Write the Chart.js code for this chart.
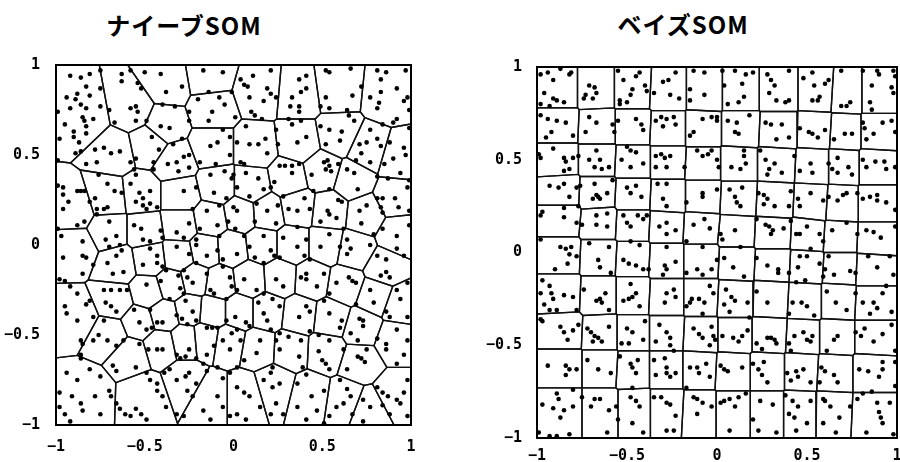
<!DOCTYPE html>
<html>
<head>
<meta charset="utf-8">
<script src="https://cdn.jsdelivr.net/npm/chart.js@4/dist/chart.umd.min.js"></script>
<style>
body { margin: 0; background: #fff; }
#wrap { position: relative; width: 900px; height: 462px; overflow: hidden; background: #fff; }
.title { position: absolute; font-family: "Noto Sans CJK JP", sans-serif; font-weight: bold; font-size: 24px; line-height: 34px; letter-spacing: 1px; text-align: center; color: #000; }
#t1 { left: 0; width: 368px; top: 8px; }
#t2 { left: 583px; width: 200px; top: 7px; }
#naive { position: absolute; left: 0; top: 0; }
#bayes { position: absolute; left: 450px; top: 0; }
</style>
</head>
<body>
<div id="wrap">
  <div class="title" id="t1">ナイーブSOM</div>
  <div class="title" id="t2">ベイズSOM</div>
  <canvas id="naive" width="450" height="462"></canvas>
  <canvas id="bayes" width="480" height="462"></canvas>
</div>
<script>
'use strict';

let tickValues = [-1, -0.5, 0, 0.5, 1];
let tickLabels = ['−1', '−0.5', '0', '0.5', '1'];

// SOM reference vectors (cell generators)
let naiveNodeX = [-.84,-.57,-.37,-.14,.14,.37,.58,.87, -.39,-.12,.12,.37,.59,.76,.93, -.67,-.48,-.33,-.12,
  -.90,-.71,-.52,-.30,-.09,.10,.31,.50,.67,.91, -.89,-.70,-.50,-.30,-.13,.04,.19,.36,.54,.74,.93,
  -.65,-.47,-.31,-.16,-.01,.16,.33,.52,.68,.85, -.88,-.67,-.48,-.35,-.22,-.08,.09,.26,.44,.63,.80,.94,
  -.70,-.53,-.39,-.25,-.12,.03,.19,.37,.55,.72,.91, -.58,-.41,-.27,-.16,-.03,.14,.32,.52,.71,
  -.83,-.50,-.27,-.13,.06,.23,.43,.63,.76,.91];
let naiveNodeY = [.70,.75,.89,.93,.85,.83,.86,.83, .67,.76,.54,.57,.61,.53,.48, .52,.56,.46,.54,
  .20,.26,.28,.28,.33,.33,.37,.41,.36,.26, -.02,.08,.08,.11,.14,.17,.18,.21,.19,.17,.06,
  -.11,-.08,-.06,-.03,-.02,.00,.00,.00,-.03,-.13, -.40,-.31,-.26,-.22,-.19,-.21,-.19,-.18,-.19,-.22,-.28,-.33,
  -.50,-.43,-.39,-.36,-.37,-.37,-.37,-.39,-.41,-.46,-.53, -.61,-.56,-.53,-.52,-.54,-.57,-.58,-.59,-.65,
  -.82,-.83,-.75,-.83,-.83,-.78,-.83,-.86,-.91,-.83];

let bayesNodeX = [
  -.88,-.67,-.47,-.27,-.07,.13,.34,.56,.72,.89,
  -.88,-.66,-.47,-.27,-.08,.13,.34,.55,.71,.89,
  -.88,-.66,-.47,-.27,-.08,.12,.33,.54,.70,.88,
  -.87,-.66,-.47,-.27,-.08,.12,.32,.53,.69,.88,
  -.87,-.65,-.47,-.28,-.09,.11,.31,.51,.68,.88,
  -.87,-.65,-.47,-.28,-.09,.11,.31,.50,.68,.87,
  -.87,-.65,-.47,-.28,-.09,.10,.30,.49,.67,.87,
  -.86,-.64,-.47,-.28,-.09,.10,.29,.48,.66,.87,
  -.86,-.64,-.47,-.28,-.10,.09,.28,.47,.65,.86,
  -.86,-.64,-.46,-.28,-.10,.09,.28,.46,.64,.86];
let bayesNodeY = [
  .88,.88,.88,.87,.87,.87,.87,.87,.86,.86,
  .68,.67,.67,.66,.66,.66,.65,.65,.64,.64,
  .50,.50,.49,.49,.48,.48,.48,.47,.47,.47,
  .33,.32,.31,.30,.30,.29,.28,.27,.26,.26,
  .18,.16,.15,.14,.13,.11,.10,.09,.08,.07,
  -.01,-.02,-.03,-.04,-.04,-.05,-.06,-.07,-.08,-.09,
  -.22,-.23,-.23,-.24,-.24,-.25,-.25,-.26,-.26,-.27,
  -.43,-.44,-.44,-.44,-.45,-.45,-.45,-.46,-.46,-.46,
  -.61,-.61,-.62,-.62,-.62,-.63,-.63,-.63,-.64,-.64,
  -.85,-.85,-.85,-.85,-.86,-.86,-.86,-.86,-.86,-.87];

// sample points, x,y pairs
let naiveDots = [
  -.92,.94,-.86,.93,-.81,.95,-.75,.97,-.63,.95,-.58,.97,-.50,.96,-.41,.95,-.17,.97,-.06,.96,
  -.94,.82,-.88,.84,-.83,.88,-.81,.83,-.75,.87,-.63,.91,-.54,.90,-.52,.87,-.38,.85,-.29,.88,-.14,.85,-.08,.82,-.01,.85,
  -.99,.74,-.92,.76,-.86,.78,-.89,.81,-.83,.76,-.75,.77,-.70,.75,-.58,.76,-.55,.77,-.54,.74,-.40,.78,-.33,.77,-.25,.74,-.20,.81,-.12,.74,-.05,.78,
  -.95,.67,-.90,.63,-.85,.71,-.84,.69,-.83,.66,-.79,.70,-.67,.68,-.55,.69,-.49,.69,-.41,.66,-.36,.65,-.25,.69,-.14,.69,-.06,.64,
  -.98,.59,-.90,.60,-.87,.57,-.83,.62,-.78,.53,-.73,.54,-.69,.51,-.64,.52,-.46,.60,-.42,.53,-.34,.56,-.29,.59,-.13,.55,-.09,.57,-.02,.60,
  -.89,.51,-.86,.52,-.99,.47,-.83,.45,-.77,.46,-.58,.46,-.55,.48,-.45,.46,-.37,.45,-.32,.46,-.28,.49,-.25,.50,-.19,.46,-.10,.45,-.02,.50,
  -.99,.33,-.96,.32,-.76,.39,-.71,.34,-.56,.42,-.55,.39,-.45,.42,-.31,.41,-.25,.43,-.13,.39,-.05,.41,-.01,.37,
  -.96,.28,-.93,.24,-.88,.30,-.86,.30,-.84,.30,-.78,.26,-.67,.30,-.63,.29,-.58,.34,-.53,.29,-.51,.26,-.47,.30,-.28,.30,-.21,.32,-.11,.29,-.04,.26,
  -.96,.20,-.81,.24,-.77,.20,-.73,.20,-.71,.21,-.55,.24,-.51,.22,-.47,.23,-.49,.20,-.43,.21,-.23,.20,-.15,.19,-.08,.22,.00,.21,
  -.99,.09,-.88,.11,-.84,.13,-.77,.17,-.70,.13,-.56,.11,-.52,.09,-.41,.08,-.32,.07,-.25,.12,-.19,.09,-.09,.11,-.03,.13,
  -.97,.05,-.85,.02,-.72,.03,-.66,.05,-.51,.03,-.47,.02,-.40,.04,-.28,.04,-.21,.03,-.08,.05,
  .04,.92,.06,.89,.08,.88,.11,.94,.21,.97,.37,.92,.41,.94,.52,.97,.54,.96,.66,.98,.81,.97,.86,.96,.97,.97,.83,.92,
  .19,.87,.21,.84,.24,.82,.33,.82,.38,.85,.41,.87,.52,.82,.67,.83,.72,.88,.77,.82,.83,.85,.92,.87,.98,.82,.09,.82,
  .01,.71,.10,.74,.12,.72,.17,.80,.32,.77,.37,.77,.37,.74,.49,.77,.54,.76,.64,.75,.65,.72,.81,.76,.82,.79,.96,.80,.99,.75,
  .07,.66,.16,.70,.24,.64,.31,.70,.33,.67,.38,.69,.49,.66,.54,.64,.61,.63,.68,.69,.77,.64,.84,.67,.90,.68,.92,.70,.99,.65,
  .02,.57,.09,.56,.14,.56,.18,.59,.25,.56,.36,.57,.41,.60,.52,.56,.60,.58,.71,.56,.75,.57,.81,.59,.83,.55,.88,.57,.96,.54,
  .04,.46,.06,.45,.19,.51,.26,.44,.29,.44,.33,.44,.37,.45,.51,.46,.53,.47,.54,.44,.59,.45,.69,.47,.72,.51,.77,.46,.85,.45,.90,.48,.97,.50,
  .00,.39,.07,.40,.14,.37,.23,.35,.33,.40,.44,.39,.52,.42,.55,.41,.64,.42,.68,.40,.81,.38,.87,.37,.94,.40,.99,.36,
  .02,.32,.09,.27,.17,.31,.21,.32,.28,.27,.40,.26,.45,.30,.54,.31,.59,.25,.70,.31,.81,.26,.83,.21,.84,.26,.91,.26,.98,.32,
  .02,.19,.13,.23,.19,.19,.25,.22,.31,.20,.36,.19,.43,.20,.54,.17,.53,.19,.61,.24,.71,.19,.75,.22,.84,.18,.93,.21,.99,.19,
  .01,.09,.06,.05,.12,.13,.17,.05,.24,.12,.28,.04,.36,.10,.41,.03,.49,.13,.54,.06,.62,.09,.64,.03,.72,.12,.79,.06,.84,.09,.92,.05,.99,.11,.58,.15,
  -.96,-.07,-.85,-.06,-.83,-.07,-.70,-.01,-.66,-.06,-.64,.00,-.63,-.03,-.47,-.02,-.43,-.06,-.32,-.01,-.25,-.05,-.21,.00,-.15,-.06,-.09,-.03,-.06,-.08,
  -.98,-.19,-.95,-.20,-.85,-.16,-.79,-.11,-.71,-.10,-.68,-.16,-.62,-.15,-.51,-.11,-.43,-.10,-.40,-.12,-.38,-.14,-.31,-.17,-.28,-.14,-.26,-.18,-.21,-.10,-.15,-.16,-.06,-.12,-.02,-.18,
  -.92,-.23,-.88,-.27,-.81,-.31,-.73,-.25,-.69,-.25,-.64,-.25,-.60,-.25,-.72,-.32,-.69,-.34,-.49,-.22,-.41,-.20,-.36,-.30,-.30,-.24,-.28,-.27,-.27,-.31,-.23,-.21,-.13,-.25,-.11,-.27,-.04,-.30,-.01,-.23,
  -.95,-.34,-.94,-.38,-.88,-.42,-.83,-.33,-.79,-.40,-.73,-.42,-.66,-.37,-.56,-.36,-.53,-.43,-.49,-.47,-.46,-.46,-.47,-.36,-.43,-.43,-.40,-.43,-.32,-.39,-.29,-.41,-.26,-.44,-.23,-.37,-.21,-.42,-.15,-.46,-.12,-.46,-.09,-.46,-.04,-.42,-.01,-.49,
  -.86,-.53,-.85,-.55,-.79,-.53,-.76,-.50,-.71,-.53,-.66,-.56,-.62,-.53,-.53,-.55,-.48,-.58,-.43,-.58,-.40,-.58,-.32,-.61,-.30,-.63,-.27,-.62,-.25,-.58,-.21,-.63,-.17,-.66,-.15,-.61,-.11,-.56,-.06,-.53,-.02,-.58,-.86,-.61,-.86,-.63,
  -.94,-.71,-.88,-.75,-.81,-.69,-.75,-.73,-.68,-.67,-.66,-.70,-.55,-.68,-.49,-.71,-.47,-.75,-.43,-.77,-.39,-.71,-.36,-.69,-.32,-.75,-.27,-.73,-.25,-.71,-.21,-.77,-.15,-.70,-.09,-.68,-.06,-.74,-.02,-.71,
  -.98,-.90,-.95,-.94,-.86,-.88,-.85,-.92,-.78,-.84,-.75,-.94,-.70,-.81,-.69,-.84,-.66,-.88,-.64,-.91,-.61,-.94,-.58,-.95,-.55,-.91,-.52,-.94,-.49,-.97,-.43,-.81,-.40,-.84,-.38,-.90,-.32,-.94,-.28,-.95,-.26,-.81,-.23,-.84,-.17,-.92,-.13,-.97,-.09,-.84,-.06,-.90,-.02,-.95,-.92,-.98,-.98,-.82,-.91,-.84,
  .02,-.05,.09,-.01,.12,-.07,.21,-.03,.23,-.06,.26,-.07,.36,-.01,.40,-.06,.43,-.08,.49,-.01,.60,-.01,.64,-.05,.66,-.02,.77,.00,.81,-.06,.86,-.08,.92,-.02,.96,-.06,.17,-.10,.41,-.16,
  .02,-.25,.06,-.19,.13,-.25,.17,-.27,.24,-.19,.28,-.23,.38,-.18,.41,-.19,.47,-.23,.51,-.16,.58,-.21,.65,-.18,.67,-.20,.69,-.21,.77,-.25,.83,-.17,.86,-.15,.88,-.18,.92,-.25,.98,-.21,.54,-.27,
  .01,-.40,.07,-.43,.14,-.32,.17,-.38,.19,-.42,.22,-.30,.26,-.34,.37,-.40,.41,-.34,.43,-.37,.51,-.31,.54,-.38,.61,-.42,.69,-.33,.71,-.41,.73,-.42,.79,-.32,.86,-.37,.88,-.40,.94,-.30,.98,-.40,
  .02,-.47,.04,-.53,.09,-.45,.15,-.53,.21,-.47,.24,-.53,.26,-.49,.31,-.51,.38,-.53,.43,-.48,.48,-.50,.54,-.53,.60,-.46,.66,-.49,.70,-.53,.73,-.45,.81,-.52,.86,-.55,.92,-.47,.98,-.53,
  .02,-.68,.06,-.64,.13,-.60,.21,-.71,.22,-.68,.26,-.58,.37,-.62,.39,-.68,.48,-.59,.50,-.64,.52,-.66,.54,-.69,.62,-.58,.70,-.62,.72,-.63,.74,-.65,.75,-.58,.86,-.58,.92,-.66,.96,-.61,.64,-.69,
  .02,-.79,.06,-.82,.09,-.84,.17,-.75,.22,-.79,.26,-.77,.36,-.77,.41,-.72,.44,-.84,.51,-.81,.60,-.75,.64,-.80,.66,-.84,.73,-.86,.81,-.79,.84,-.82,.87,-.84,.92,-.86,.96,-.82,.98,-.75,
  .02,-.94,.07,-.97,.15,-.90,.21,-.94,.28,-.94,.36,-.90,.41,-.97,.47,-.92,.54,-.95,.58,-.90,.62,-.88,.67,-.94,.73,-.98,.77,-.90,.84,-.89,.88,-.94,.94,-.88,.98,-.95,.24,-.88,.51,-.99];

let bayesDots = [
  -.98,.96,-.94,.97,-.91,.93,-.87,.99,-.82,.96,-.81,.97,-.96,.86,-.91,.83,-.89,.82,-.85,.81,-.98,.80,-.93,.79,-.71,.90,-.68,.89,-.67,.86,-.69,.83,-.73,.85,-.74,.83,-.55,.98,-.52,.93,-.45,.95,-.43,.97,-.54,.82,-.48,.85,-.47,.88,-.40,.90,-.39,.87,-.54,.80,-.50,.81,-.30,.92,-.27,.93,-.23,.97,-.35,.86,-.26,.85,-.21,.83,-.13,.98,-.07,.97,-.15,.88,-.15,.82,-.07,.85,
  -.98,.74,-.94,.72,-.89,.71,-.84,.70,-.92,.65,-.95,.62,-.80,.63,-.71,.73,-.67,.70,-.73,.65,-.58,.69,-.55,.71,-.57,.65,-.45,.72,-.42,.69,-.41,.66,-.34,.71,-.31,.73,-.28,.72,-.24,.73,-.30,.68,-.23,.69,-.13,.65,-.15,.63,-.08,.72,-.03,.73,
  -.99,.53,-.98,.51,-.91,.56,-.85,.51,-.84,.49,-.80,.51,-.77,.52,-.82,.45,-.85,.44,-.67,.55,-.71,.50,-.65,.50,-.60,.46,-.64,.45,-.68,.46,-.50,.57,-.48,.55,-.45,.54,-.53,.50,-.48,.46,-.41,.48,-.34,.52,-.31,.53,-.29,.51,-.26,.52,-.34,.46,-.28,.46,-.18,.46,-.11,.55,-.08,.52,-.05,.53,-.03,.55,
  -.93,.36,-.88,.35,-.85,.37,-.78,.35,-.76,.36,-.82,.30,-.68,.37,-.67,.31,-.66,.30,-.65,.29,-.61,.32,-.69,.29,-.58,.39,-.50,.35,-.48,.32,-.45,.36,-.42,.30,-.33,.37,-.28,.37,-.30,.29,-.28,.25,-.17,.27,-.08,.32,-.08,.30,
  -.98,.20,-.97,.22,-.85,.19,-.85,.24,-.77,.25,-.78,.16,-.75,.15,-.67,.20,-.61,.21,-.67,.15,-.61,.14,-.52,.20,-.50,.16,-.44,.20,-.41,.18,-.39,.20,-.48,.14,-.32,.14,-.28,.16,-.23,.12,-.28,.10,-.13,.15,-.07,.18,-.04,.13,
  -.98,.07,-.87,.03,-.84,.02,-.81,.03,-.71,.05,-.60,.03,-.48,.06,-.43,.04,-.28,.03,-.17,.06,-.08,.03,
  .03,.98,.04,.90,.10,.98,.14,.91,.16,.96,.15,.84,.20,.97,.06,.80,.12,.81,.28,.96,.30,.93,.32,.90,.29,.86,.33,.82,.38,.81,.40,.82,.40,.98,.48,.94,.53,.97,.54,.90,.57,.84,.53,.82,.56,.82,.60,.91,.62,.93,.69,.98,.69,.79,.72,.79,.74,.81,.81,.98,.86,.77,.85,.81,.89,.98,.90,.96,.98,.98,.97,.89,.98,.86,.86,.90,.99,.95,
  .00,.73,.00,.71,.06,.71,.11,.70,.10,.65,.12,.64,.18,.74,.27,.70,.30,.69,.36,.69,.33,.61,.40,.62,.46,.67,.51,.65,.53,.64,.56,.62,.60,.66,.65,.61,.71,.64,.75,.64,.81,.70,.82,.67,.87,.64,.83,.61,.92,.70,.97,.71,.99,.65,
  .00,.50,.01,.46,.08,.46,.15,.55,.15,.52,.16,.48,.13,.45,.24,.55,.27,.50,.29,.45,.32,.48,.36,.43,.28,.42,.43,.52,.46,.44,.52,.48,.53,.43,.62,.48,.64,.45,.67,.51,.67,.43,.73,.46,.75,.42,.81,.50,.83,.46,.88,.49,.93,.49,.94,.45,.99,.46,
  .00,.34,.07,.34,.10,.30,.11,.27,.14,.35,.13,.25,.23,.32,.26,.31,.28,.29,.26,.26,.32,.25,.41,.33,.40,.25,.45,.29,.46,.25,.52,.32,.59,.28,.62,.30,.67,.28,.70,.31,.72,.32,.78,.32,.81,.29,.85,.30,.89,.31,.89,.28,.94,.27,.99,.23,
  .02,.10,.03,.07,.10,.12,.22,.18,.27,.15,.29,.14,.31,.12,.30,.10,.37,.13,.41,.17,.44,.10,.46,.10,.50,.14,.57,.10,.59,.06,.64,.12,.72,.16,.78,.10,.83,.12,.87,.11,.91,.08,.99,.14,.13,.03,.52,.02,
  -.82,-.01,-.78,-.02,-.90,-.09,-.83,-.06,-.66,-.04,-.65,-.08,-.59,-.11,-.52,-.04,-.49,-.06,-.45,-.07,-.41,-.09,-.38,-.09,-.29,-.07,-.28,-.09,-.30,-.12,-.23,-.05,-.17,-.11,-.11,-.09,-.08,-.12,-.03,-.09,
  -.97,-.15,-.93,-.18,-.98,-.22,-.92,-.22,-.91,-.25,-.85,-.23,-.80,-.24,-.96,-.28,-.93,-.31,-.89,-.31,-.78,-.31,-.74,-.20,-.67,-.26,-.65,-.25,-.62,-.22,-.64,-.27,-.60,-.31,-.52,-.26,-.49,-.25,-.47,-.24,-.45,-.22,-.43,-.29,-.48,-.17,-.29,-.27,-.28,-.22,-.24,-.20,-.23,-.24,-.17,-.29,-.15,-.27,-.14,-.25,-.10,-.25,-.07,-.27,-.04,-.18,-.08,-.33,
  -.98,-.36,-.97,-.37,-.87,-.40,-.85,-.43,-.80,-.42,-.77,-.39,-.83,-.47,-.72,-.41,-.70,-.43,-.68,-.45,-.66,-.46,-.69,-.48,-.64,-.48,-.60,-.40,-.50,-.41,-.47,-.43,-.53,-.49,-.49,-.49,-.41,-.47,-.40,-.37,-.32,-.39,-.28,-.43,-.26,-.46,-.26,-.50,-.24,-.53,-.34,-.48,-.13,-.41,-.10,-.44,-.08,-.46,-.03,-.40,-.04,-.50,
  -.94,-.61,-.84,-.61,-.82,-.63,-.84,-.66,-.78,-.63,-.72,-.58,-.66,-.63,-.59,-.65,-.54,-.56,-.48,-.60,-.47,-.62,-.44,-.58,-.45,-.65,-.35,-.58,-.29,-.57,-.28,-.62,-.28,-.65,-.26,-.67,-.23,-.65,-.34,-.66,-.15,-.62,-.11,-.62,-.10,-.65,-.06,-.60,-.04,-.67,
  -.89,-.76,-.88,-.79,-.80,-.74,-.75,-.78,-.68,-.79,-.65,-.79,-.97,-.82,-.91,-.84,-.85,-.85,-.80,-.83,-.70,-.83,-.87,-.89,-.60,-.85,-.61,-.97,-.56,-.83,-.55,-.90,-.48,-.78,-.47,-.73,-.45,-.80,-.43,-.83,-.41,-.97,-.47,-.92,-.35,-.78,-.31,-.78,-.28,-.81,-.26,-.82,-.23,-.88,-.24,-.96,-.28,-.96,-.17,-.73,-.13,-.78,-.11,-.79,-.08,-.81,-.11,-.87,-.03,-.83,-.99,-.97,-.93,-.99,-.82,-.98,-.89,-.99,
  .00,-.04,.04,-.03,.09,-.08,.15,-.13,.22,-.03,.28,-.07,.34,-.09,.34,-.11,.40,-.11,.45,-.08,.46,-.02,.50,-.02,.44,-.16,.49,-.15,.57,-.06,.60,-.09,.59,-.13,.62,-.02,.65,-.12,.74,-.10,.77,-.11,.84,-.02,.89,-.08,.96,-.02,.98,-.12,
  -.02,-.22,.05,-.20,.08,-.24,.10,-.26,.04,-.28,.07,-.32,.17,-.27,.22,-.21,.28,-.27,.18,-.35,.42,-.27,.47,-.27,.50,-.29,.40,-.33,.54,-.34,.61,-.21,.66,-.27,.72,-.31,.77,-.22,.81,-.27,.87,-.27,.89,-.30,.92,-.22,.97,-.32,.94,-.18,.85,-.33,
  -.02,-.45,-.01,-.47,.03,-.45,.09,-.46,.12,-.48,.14,-.45,.17,-.42,.22,-.49,.25,-.52,.28,-.46,.30,-.46,.32,-.47,.33,-.49,.40,-.49,.41,-.53,.43,-.45,.48,-.43,.50,-.47,.52,-.48,.53,-.45,.61,-.53,.65,-.47,.67,-.45,.77,-.43,.80,-.45,.82,-.41,.87,-.48,.92,-.44,.97,-.39,.99,-.53,
  .02,-.61,.04,-.63,.06,-.64,.14,-.62,.20,-.60,.23,-.63,.25,-.66,.28,-.70,.26,-.59,.39,-.65,.41,-.69,.44,-.64,.45,-.67,.48,-.63,.52,-.70,.58,-.62,.60,-.64,.65,-.66,.67,-.70,.57,-.70,.79,-.63,.84,-.64,.92,-.59,.92,-.63,.99,-.59,.90,-.67,
  .02,-.81,.04,-.80,.07,-.79,.10,-.83,.12,-.78,.16,-.76,.24,-.80,.31,-.82,.20,-.90,.23,-.96,.38,-.77,.42,-.80,.45,-.83,.40,-.87,.43,-.89,.50,-.92,.44,-.96,.59,-.79,.60,-.80,.63,-.83,.52,-.80,.59,-.92,.68,-.89,.74,-.83,.78,-.79,.81,-.76,.86,-.75,.89,-.81,.90,-.86,.91,-.89,.92,-.92,.96,-.81,.99,-.72,.98,-.98,.07,-.96,.33,-.97,.83,-.97,.66,-.97];

// keep the part of poly where a*x + b*y <= c
function clipHalf(poly, a, b, c) {
    let out = [];
    for (let i = 0; i < poly.length; i++) {
        let p = poly[i];
        let q = poly[(i + 1) % poly.length];
        let dp = a * p.x + b * p.y - c;
        let dq = a * q.x + b * q.y - c;
        if (dp <= 0) out.push(p);
        if ((dp < 0 && dq > 0) || (dp > 0 && dq < 0)) {
            let t = dp / (dp - dq);
            out.push({ x: p.x + t * (q.x - p.x), y: p.y + t * (q.y - p.y) });
        }
    }
    return out;
}

// Voronoi cell of every node inside the [-1,1] square
function voronoiCells(xs, ys) {
    return xs.map((xi, i) => {
        let poly = [{ x: -1, y: -1 }, { x: 1, y: -1 }, { x: 1, y: 1 }, { x: -1, y: 1 }];
        for (let j = 0; j < xs.length; j++) {
            if (j === i || poly.length === 0) continue;
            let a = xs[j] - xi;
            let b = ys[j] - ys[i];
            let c = (xs[j] * xs[j] - xi * xi + ys[j] * ys[j] - ys[i] * ys[i]) / 2;
            poly = clipHalf(poly, a, b, c);
        }
        if (poly.length) poly.push(poly[0]);
        return poly;
    });
}

function pairs(flat) {
    let pts = [];
    for (let i = 0; i < flat.length; i += 2) pts.push({ x: flat[i], y: flat[i + 1] });
    return pts;
}

let framePlugin = {
    id: 'frame',
    afterDatasetsDraw(chart) {
        let a = chart.chartArea;
        let ctx = chart.ctx;
        ctx.save();
        ctx.strokeStyle = '#000';
        ctx.lineWidth = 2;
        ctx.strokeRect(a.left, a.top, a.right - a.left, a.bottom - a.top);
        ctx.restore();
    }
};

let tickFont = { family: 'DejaVu Sans Mono', size: 15, weight: 'bold' };

function makeChart(id, dots, nodeX, nodeY, box) {
    let datasets = voronoiCells(nodeX, nodeY).map(cell => ({
        data: cell,
        showLine: true,
        pointRadius: 0,
        borderColor: '#111',
        borderWidth: 1.4,
        tension: 0,
        fill: false
    }));
    datasets.unshift({
        data: pairs(dots),
        showLine: false,
        pointRadius: 2.3,
        pointBorderWidth: 0,
        pointBackgroundColor: '#000',
        pointBorderColor: '#000'
    });
    new Chart(document.getElementById(id), {
        type: 'scatter',
        data: { datasets: datasets },
        options: {
            responsive: false,
            animation: false,
            events: [],
            layout: { padding: { left: 0, top: box.top, right: box.right, bottom: 0 } },
            plugins: { legend: { display: false }, tooltip: { enabled: false } },
            scales: {
                x: {
                    type: 'linear', min: -1, max: 1,
                    grid: { display: false }, border: { display: false },
                    afterBuildTicks: s => { s.ticks = tickValues.map(v => ({ value: v })); },
                    afterFit: s => { s.height = box.xHeight; },
                    ticks: {
                        callback: v => tickLabels[tickValues.indexOf(v)],
                        padding: box.xPad, font: tickFont, color: '#000',
                        maxRotation: 0, autoSkip: false
                    }
                },
                y: {
                    type: 'linear', min: -1, max: 1,
                    grid: { display: false }, border: { display: false },
                    afterBuildTicks: s => { s.ticks = tickValues.map(v => ({ value: v })); },
                    afterFit: s => { s.width = box.yWidth; },
                    ticks: {
                        callback: v => tickLabels[tickValues.indexOf(v)],
                        padding: box.yPad, font: tickFont, color: '#000',
                        autoSkip: false
                    }
                }
            }
        },
        plugins: [framePlugin]
    });
}

makeChart('naive', naiveDots, naiveNodeX, naiveNodeY,
    { top: 65, right: 39, xHeight: 37, yWidth: 56, xPad: 5, yPad: 8 });
makeChart('bayes', bayesDots, bayesNodeX, bayesNodeY,
    { top: 67, right: 33, xHeight: 24, yWidth: 87, xPad: 1, yPad: 7 });
</script>
</body>
</html>
